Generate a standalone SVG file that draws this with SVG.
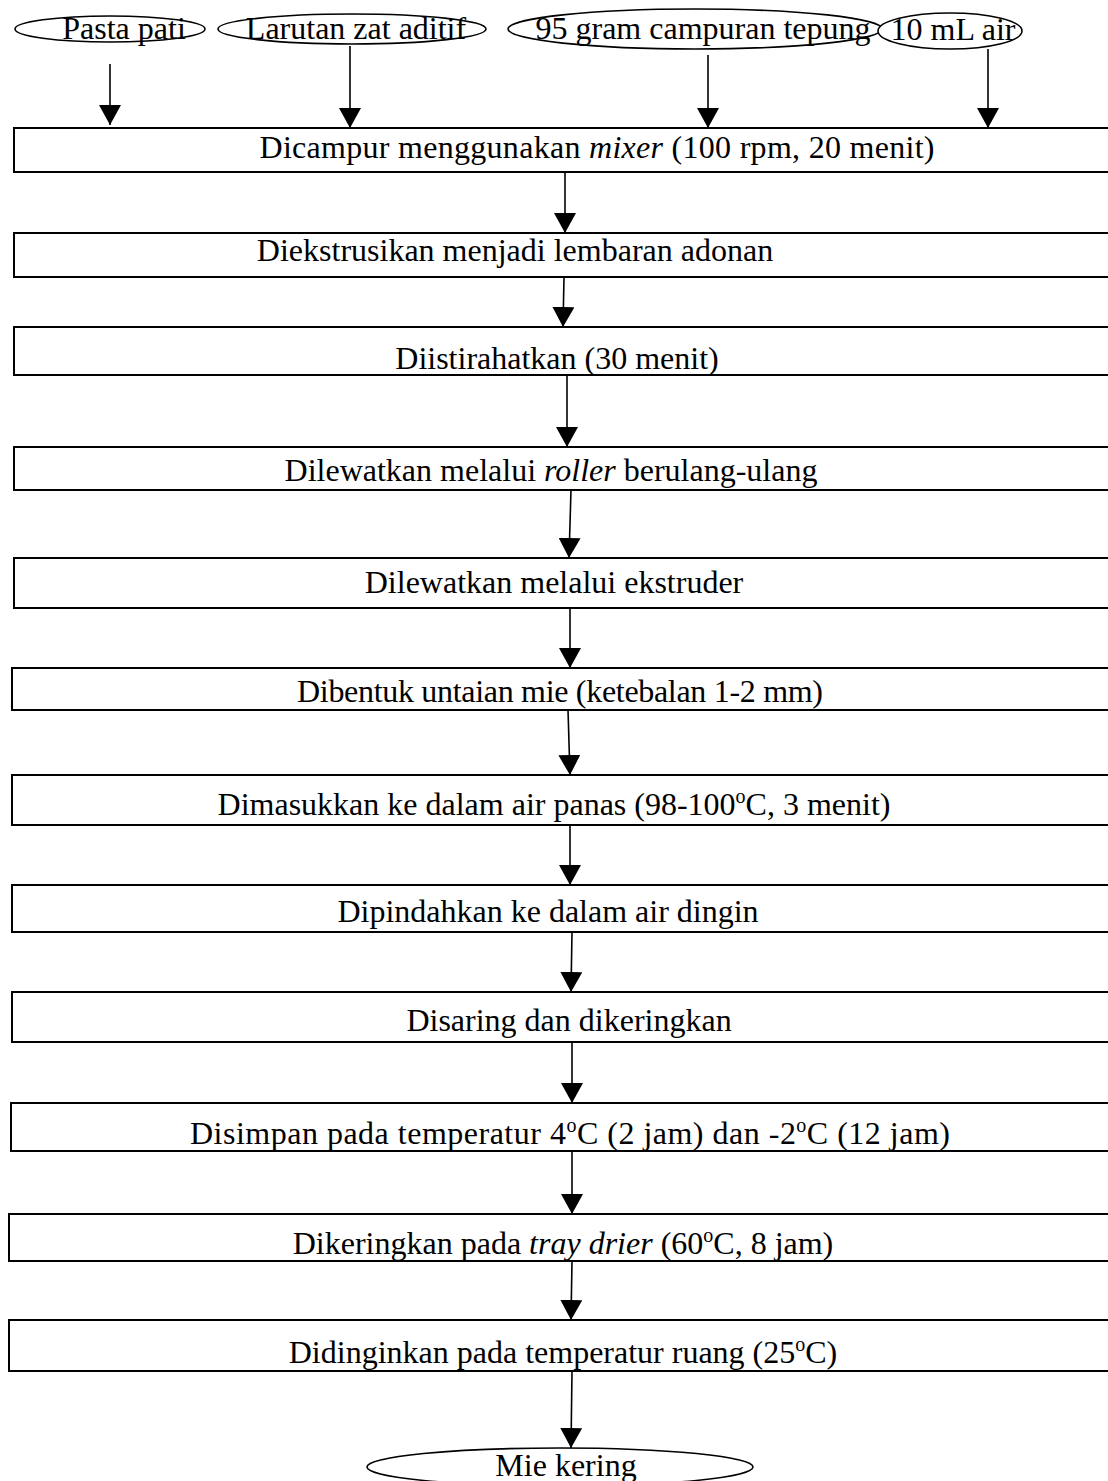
<svg xmlns="http://www.w3.org/2000/svg" width="1108" height="1481" viewBox="0 0 1108 1481">
<defs>
<marker id="ah" viewBox="0 0 20 22" refX="20" refY="11" markerWidth="20" markerHeight="22" markerUnits="userSpaceOnUse" orient="auto">
<path d="M0,0 L20,11 L0,22 z" fill="#000"/>
</marker>
<style>
.box{fill:#fff;stroke:#000;stroke-width:2}
.ell{fill:#fff;stroke:#000;stroke-width:1.6}
.t{font-family:"Liberation Serif","Times New Roman",serif;font-size:32px;fill:#000;text-anchor:middle}
.sup{font-size:20px}
.c line{stroke:#000;stroke-width:1.6;marker-end:url(#ah)}
</style>
</defs>
<rect width="1108" height="1481" fill="#fff"/>

<g id="n-pasta"><ellipse class="ell" cx="110" cy="29" rx="95" ry="13"/><text class="t" x="124" y="39">Pasta pati</text></g>
<g id="n-larutan"><ellipse class="ell" cx="352" cy="29" rx="134" ry="15"/><text class="t" x="356" y="39">Larutan zat aditif</text></g>
<g id="n-tepung"><ellipse class="ell" cx="695" cy="29" rx="187" ry="20"/><text class="t" x="703" y="39">95 gram campuran tepung</text></g>
<g id="n-air"><ellipse class="ell" cx="950" cy="31" rx="72" ry="18"/><text class="t" x="953" y="40">10 mL air</text></g>

<g id="n1"><rect class="box" x="14" y="128" width="1110" height="44"/><text class="t" x="597" y="158" textLength="675" lengthAdjust="spacing">Dicampur menggunakan <tspan font-style="italic">mixer</tspan> (100 rpm, 20 menit)</text></g>
<g id="n2"><rect class="box" x="14" y="233" width="1110" height="44"/><text class="t" x="515" y="261">Diekstrusikan menjadi lembaran adonan</text></g>
<g id="n3"><rect class="box" x="14" y="327" width="1110" height="48"/><text class="t" x="557" y="369">Diistirahatkan (30 menit)</text></g>
<g id="n4"><rect class="box" x="14" y="447" width="1110" height="43"/><text class="t" x="551" y="481">Dilewatkan melalui <tspan font-style="italic">roller</tspan> berulang-ulang</text></g>
<g id="n5"><rect class="box" x="14" y="558" width="1110" height="50"/><text class="t" x="554" y="593">Dilewatkan melalui ekstruder</text></g>
<g id="n6"><rect class="box" x="12" y="668" width="1110" height="42"/><text class="t" x="560" y="702" textLength="526" lengthAdjust="spacing">Dibentuk untaian mie (ketebalan 1-2 mm)</text></g>
<g id="n7"><rect class="box" x="12" y="775" width="1110" height="50"/><text class="t" x="554" y="815">Dimasukkan ke dalam air panas (98-100<tspan class="sup" dy="-12">o</tspan><tspan dy="12">C, 3 menit)</tspan></text></g>
<g id="n8"><rect class="box" x="12" y="885" width="1110" height="47"/><text class="t" x="548" y="922">Dipindahkan ke dalam air dingin</text></g>
<g id="n9"><rect class="box" x="12" y="992" width="1110" height="50"/><text class="t" x="569" y="1031">Disaring dan dikeringkan</text></g>
<g id="n10"><rect class="box" x="11" y="1103" width="1110" height="48"/><text class="t" x="570" y="1144" textLength="760" lengthAdjust="spacing">Disimpan pada temperatur 4<tspan class="sup" dy="-12">o</tspan><tspan dy="12">C (2 jam) dan -2</tspan><tspan class="sup" dy="-12">o</tspan><tspan dy="12">C (12 jam)</tspan></text></g>
<g id="n11"><rect class="box" x="9" y="1214" width="1110" height="47"/><text class="t" x="563" y="1254">Dikeringkan pada <tspan font-style="italic">tray drier</tspan> (60<tspan class="sup" dy="-12">o</tspan><tspan dy="12">C, 8 jam)</tspan></text></g>
<g id="n12"><rect class="box" x="9" y="1320" width="1110" height="51"/><text class="t" x="563" y="1363">Didinginkan pada temperatur ruang (25<tspan class="sup" dy="-12">o</tspan><tspan dy="12">C)</tspan></text></g>

<g id="n-mie"><ellipse class="ell" cx="560" cy="1467" rx="193" ry="19"/><text class="t" x="566" y="1476">Mie kering</text></g>

<g id="connectors" class="c">
<line x1="110" y1="64" x2="110" y2="125"/>
<line x1="350" y1="46" x2="350" y2="128"/>
<line x1="708" y1="55" x2="708" y2="128"/>
<line x1="988" y1="49" x2="988" y2="128"/>
<line x1="565" y1="172" x2="565" y2="233"/>
<line x1="564" y1="277" x2="563" y2="327"/>
<line x1="567" y1="375" x2="567" y2="447"/>
<line x1="571" y1="490" x2="569" y2="558"/>
<line x1="570" y1="608" x2="570" y2="668"/>
<line x1="568" y1="710" x2="570" y2="775"/>
<line x1="570" y1="825" x2="570" y2="885"/>
<line x1="572" y1="932" x2="571" y2="992"/>
<line x1="572" y1="1042" x2="572" y2="1103"/>
<line x1="572" y1="1151" x2="572" y2="1214"/>
<line x1="572" y1="1261" x2="571" y2="1320"/>
<line x1="572" y1="1371" x2="571" y2="1448"/>
</g>
</svg>
